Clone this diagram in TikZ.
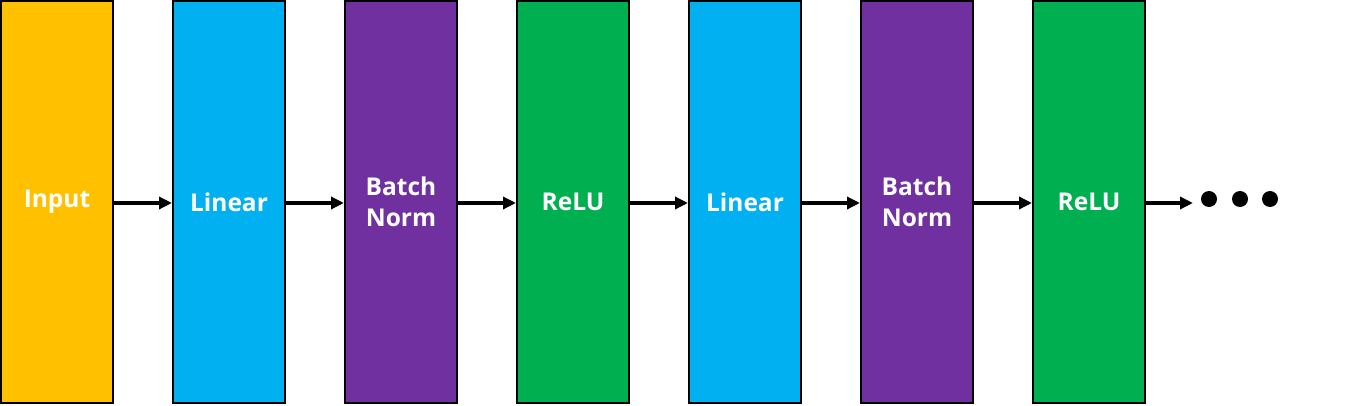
\documentclass[tikz,border=0pt]{standalone}
\usepackage{fontspec}
\setmainfont{Open Sans}
\usetikzlibrary{arrows.meta}
\definecolor{cyellow}{HTML}{FFC000}
\definecolor{cblue}{HTML}{00B0F0}
\definecolor{cpurple}{HTML}{7030A0}
\definecolor{cgreen}{HTML}{00B050}
\tikzset{
  layer/.style={draw=black, line width=2pt, minimum width=112pt, minimum height=402pt,
    inner sep=0pt, text=white, align=center, font=\fontsize{24.5}{31}\selectfont\bfseries},
  conn/.style={line width=3.5pt, -{Triangle[length=13pt,width=12pt]}},
  dot/.style={circle, fill=black, minimum size=16pt, inner sep=0pt}
}
\begin{document}
\begin{tikzpicture}[x=1pt,y=1pt]
\useasboundingbox (0,0) rectangle (1349,405);
\node[layer, fill=cyellow] (in) at (57,203) {Input};
\node[layer, fill=cblue] (l1) at (229,203) {Linear};
\node[layer, fill=cpurple] (b1) at (401,203) {Batch\\Norm};
\node[layer, fill=cgreen] (r1) at (573,203) {ReLU};
\node[layer, fill=cblue] (l2) at (745,203) {Linear};
\node[layer, fill=cpurple] (b2) at (917,203) {Batch\\Norm};
\node[layer, fill=cgreen] (r2) at (1089,203) {ReLU};
\coordinate (end) at (1193,202);
\node[dot] (d1) at (1209,206) {};
\node[dot] (d2) at (1240,206) {};
\node[dot] (d3) at (1270,206) {};
\draw[conn] (in.east |- 0,202) -- (l1.west |- 0,202);
\draw[conn] (l1.east |- 0,202) -- (b1.west |- 0,202);
\draw[conn] (b1.east |- 0,202) -- (r1.west |- 0,202);
\draw[conn] (r1.east |- 0,202) -- (l2.west |- 0,202);
\draw[conn] (l2.east |- 0,202) -- (b2.west |- 0,202);
\draw[conn] (b2.east |- 0,202) -- (r2.west |- 0,202);
\draw[conn] (r2.east |- 0,202) -- (end);
\end{tikzpicture}
\end{document}
